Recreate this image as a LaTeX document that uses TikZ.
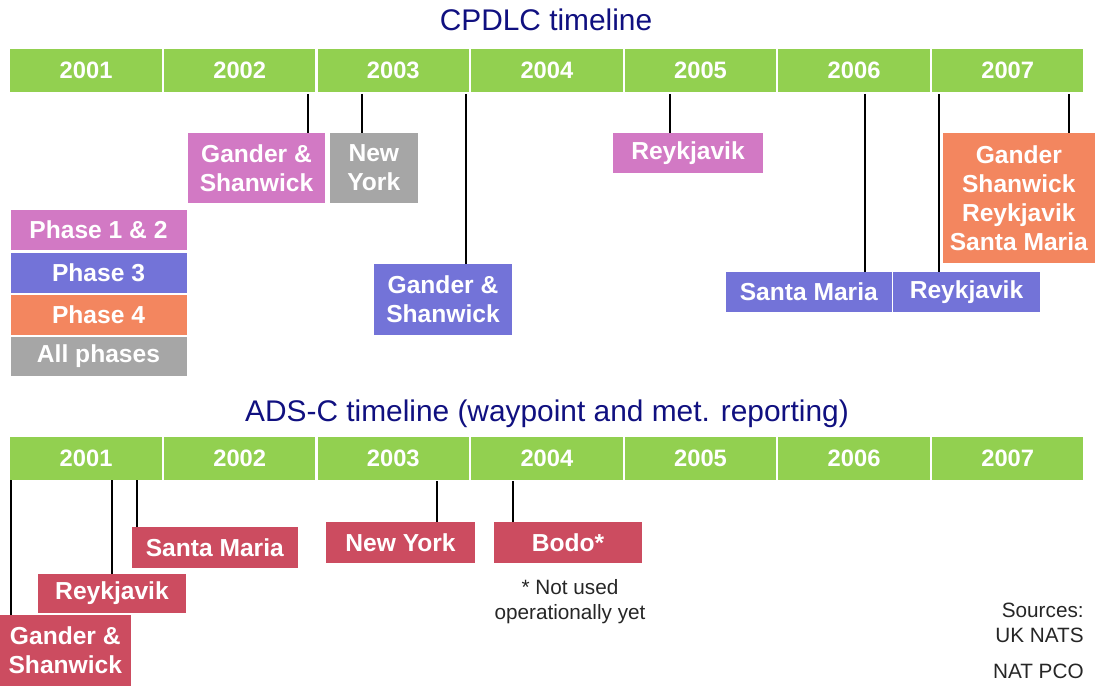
\documentclass[tikz,border=0pt]{standalone}
\usepackage{fontspec}
\setmainfont{Liberation Sans}

\begin{document}
\begin{tikzpicture}[x=0.02cm, y=-0.02cm]

\definecolor{cBar}{RGB}{146,208,80}
\definecolor{cPh12}{RGB}{210,121,196}
\definecolor{cPh3}{RGB}{115,115,216}
\definecolor{cPh4}{RGB}{243,134,95}
\definecolor{cAll}{RGB}{166,166,166}
\definecolor{cAds}{RGB}{204,76,96}
\definecolor{cTitle}{RGB}{16,16,128}

\tikzset{
  yearbox/.style={fill=cBar, text=white, inner sep=0pt, anchor=west,
    minimum width=151.5*0.02cm, minimum height=43*0.02cm,
    font=\fontsize{13.5}{16}\selectfont\bfseries},
  sitebox/.style n args={3}{fill=#1, text=white, inner sep=0pt, align=center,
    minimum width=#2*0.02cm, minimum height=#3*0.02cm,
    font=\fontsize{14}{16.4}\selectfont\bfseries},
  dropline/.style={black, line width=1.4pt},
  heading/.style={cTitle, anchor=base, font=\fontsize{17}{20}\selectfont},
  remark/.style={black!85, inner sep=0pt, font=\fontsize{11.8}{14.2}\selectfont},
}

%% Geometry: 1 unit = 1 px of a 1095 x 686 page, y running down.
\useasboundingbox (0,0) rectangle (1095,686);

%% ---------- CPDLC timeline ----------
\node[heading] (cpTitle) at (546,31) {CPDLC timeline};
\foreach \yr [count=\i from 0] in {2001,...,2007}
  \node[yearbox] (cp\yr) at ({10+153.6*\i},70.5) {\yr};

\node[sitebox={cPh12}{137}{70}] (cpGander) at (256.5,168) {Gander \&\\Shanwick};
\node[sitebox={cAll}{87.5}{70}] (cpNewYork) at (373.8,168) {New\\York};
\node[sitebox={cPh3}{138}{71}] (cpGanderB) at (443,299.5) {Gander \&\\Shanwick};
\node[sitebox={cPh12}{150}{40}] (cpReyk) at (688,153) {Reykjavik};
\node[sitebox={cPh3}{165.5}{40}] (cpSanta) at (808.8,292) {Santa Maria};
\node[sitebox={cPh3}{147}{40}] (cpReykB) at (966.5,292) {Reykjavik};
\node[sitebox={cPh4}{152.5}{130}] (cpAll) at (1018.8,198)
  {Gander\\Shanwick\\Reykjavik\\Santa Maria};

\foreach \x/\nd in {308/cpGander, 362/cpNewYork, 466/cpGanderB, 670/cpReyk,
                    865/cpSanta, 939/cpReykB, 1069/cpAll} {
  \coordinate (\nd-top) at (\x,94);
  \draw[dropline] (\nd-top) -- (\nd.north -| \nd-top);
}

%% ---------- legend ----------
\node[sitebox={cPh12}{176}{40}] (lgPh12) at (98.5,230) {Phase 1 \& 2};
\node[sitebox={cPh3}{176}{40}] (lgPh3) at (98.5,273) {Phase 3};
\node[sitebox={cPh4}{176}{40}] (lgPh4) at (98.5,315) {Phase 4};
\node[sitebox={cAll}{176}{39}] (lgAll) at (98.5,356.5) {All phases};

%% ---------- ADS-C timeline ----------
\node[heading] (adTitle) at (547,421.7) {ADS-C timeline (waypoint and met. reporting)};
\foreach \yr [count=\i from 0] in {2001,...,2007}
  \node[yearbox] (ad\yr) at ({10+153.6*\i},458) {\yr};

\node[sitebox={cAds}{130.5}{71}] (adGander) at (65.3,650.5) {Gander \&\\Shanwick};
\node[sitebox={cAds}{148}{39}] (adReyk) at (112,593.5) {Reykjavik};
\node[sitebox={cAds}{166.4}{41}] (adSanta) at (214.8,547.5) {Santa Maria};
\node[sitebox={cAds}{149}{41}] (adNewYork) at (400.5,542.5) {New York};
\node[sitebox={cAds}{148}{41}] (adBodo) at (568,542.5) {Bodo*};

\foreach \x/\y/\nd in {11/480/adGander, 112/480/adReyk, 137/480/adSanta,
                       437/481/adNewYork, 513/481/adBodo} {
  \coordinate (\nd-top) at (\x,\y);
  \draw[dropline] (\nd-top) -- (\nd.north -| \nd-top);
}

%% ---------- notes ----------
\node[remark, align=center] (adNote) at (570,602) {* Not used\\operationally yet};
\node[remark, anchor=base east] (srcHead) at (1084,617) {Sources:};
\node[remark, anchor=base east] (srcNats) at (1084,642) {UK NATS};
\node[remark, anchor=base east] (srcPco) at (1084,678) {NAT PCO};

\end{tikzpicture}
\end{document}
